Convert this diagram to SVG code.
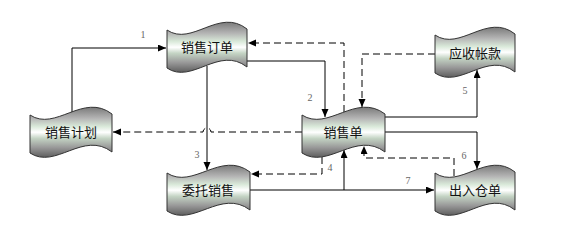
<svg xmlns="http://www.w3.org/2000/svg" xmlns:xlink="http://www.w3.org/1999/xlink" width="585" height="230" viewBox="0 0 585 230">
<style>
.node{fill:url(#metal);stroke:#333;stroke-width:1}
.lbl{font-family:"Noto Sans CJK SC","Liberation Sans",sans-serif;font-size:13px;fill:#111;text-anchor:middle}
.num{font-family:"Liberation Serif",serif;font-size:10px;fill:#666;text-anchor:middle}
.c{fill:none;stroke:#000;stroke-width:1}
.d{fill:none;stroke:#000;stroke-width:1;stroke-dasharray:7 4}
</style>
<defs>
<linearGradient id="metal" x1="0" y1="0" x2="0" y2="1">
<stop offset="0" stop-color="#7a7a7a"/>
<stop offset="0.22" stop-color="#b4b4b4"/>
<stop offset="0.38" stop-color="#d8e8d8"/>
<stop offset="0.5" stop-color="#ffffff"/>
<stop offset="0.62" stop-color="#c4d4c4"/>
<stop offset="0.8" stop-color="#9a9a9a"/>
<stop offset="1" stop-color="#5e5e5e"/>
</linearGradient>
<path id="tape" vector-effect="non-scaling-stroke" d="M0,7 C25,24 52,-16 80,6 L80,44 C52,22 25,62 0,45 Z"/>
<marker id="ah" markerUnits="userSpaceOnUse" markerWidth="9" markerHeight="8" refX="8" refY="3.5" orient="auto">
<path d="M0,0 L8,3.5 L0,7 Z" fill="#000"/>
</marker>
</defs>
<g id="connectors">
<path class="c" d="M72,112 V48 H166" marker-end="url(#ah)"/>
<path class="d" d="M344,112 V43 H248" marker-end="url(#ah)"/>
<path class="c" d="M247,61 H325 V117" marker-end="url(#ah)"/>
<path class="d" d="M435,54 H362 V107" marker-end="url(#ah)"/>
<path class="c" d="M207,66 V170" marker-end="url(#ah)"/>
<path class="d" d="M302,132 H211 A4,4 0 0 0 203,132 H113" marker-end="url(#ah)"/>
<path class="c" d="M385,117 H477 V70" marker-end="url(#ah)"/>
<path class="c" d="M385,132 H477 V169" marker-end="url(#ah)"/>
<path class="d" d="M454,176 V158 H364 V146" marker-end="url(#ah)"/>
<path class="d" d="M322,157 V174 H251" marker-end="url(#ah)"/>
<path class="c" d="M250,190 H434" marker-end="url(#ah)"/>
<path class="c" d="M344,190 V150" marker-end="url(#ah)"/>
<text class="num" x="143" y="38">1</text>
<text class="num" x="310" y="101">2</text>
<text class="num" x="197" y="158">3</text>
<text class="num" x="330" y="171">4</text>
<text class="num" x="465" y="94">5</text>
<text class="num" x="464" y="159">6</text>
<text class="num" x="408" y="184">7</text>
</g>
<g id="n-order">
<use xlink:href="#tape" class="node" transform="translate(167,23)"/>
<text class="lbl" x="207" y="52">销售订单</text>
</g>
<g id="n-receivable">
<use xlink:href="#tape" class="node" transform="translate(435,28)"/>
<text class="lbl" x="475" y="58">应收帐款</text>
</g>
<g id="n-plan">
<use xlink:href="#tape" class="node" transform="translate(30,108) scale(1.025,1)"/>
<text class="lbl" x="71" y="137">销售计划</text>
</g>
<g id="n-sale">
<use xlink:href="#tape" class="node" transform="translate(302,108) scale(1.0375,1)"/>
<text class="lbl" x="343" y="137">销售单</text>
</g>
<g id="n-consign">
<use xlink:href="#tape" class="node" transform="translate(167,166) scale(1.0375,1)"/>
<text class="lbl" x="208" y="195">委托销售</text>
</g>
<g id="n-stock">
<use xlink:href="#tape" class="node" transform="translate(435,166)"/>
<text class="lbl" x="475" y="195">出入仓单</text>
</g>
</svg>
